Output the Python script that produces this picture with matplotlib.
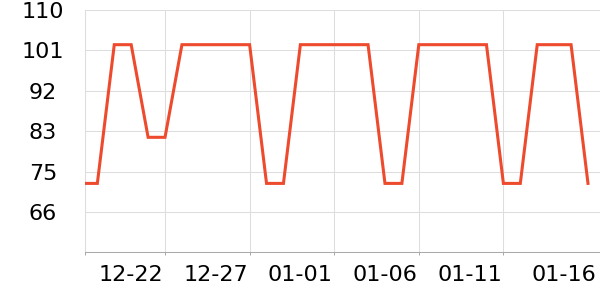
"""Daily level over a month, drawn as a single orange-red line."""

import numpy as np
import pandas as pd
import matplotlib

matplotlib.use("Agg")
import matplotlib.pyplot as plt

# Data (one point per day)
dates = pd.date_range("2023-12-17", "2024-01-16", freq="D")
values = [
    72.0, 72.0, 102.4, 102.4, 82.1, 82.1,
    102.4, 102.4, 102.4, 102.4, 102.4,
    72.0, 72.0,
    102.4, 102.4, 102.4, 102.4, 102.4,
    72.0, 72.0,
    102.4, 102.4, 102.4, 102.4, 102.4,
    72.0, 72.0,
    102.4, 102.4, 102.4,
    72.0,
]
x_labels = ["12-22", "12-27", "01-01", "01-06", "01-11", "01-16"]
y_tick_labels = ["", "66", "75", "83", "92", "101", "110"]

LINE_COLOR = "#ee4a2e"
GRID_COLOR = "#dddddd"
AXIS_COLOR = "#aaaaaa"

ref = pd.Timestamp("2023-12-22")
x = np.asarray((dates - ref).days, dtype=float)
label_x = np.asarray(
    (pd.to_datetime(["2023-12-20", "2023-12-25", "2023-12-30",
                     "2024-01-04", "2024-01-09", "2024-01-14"]) - ref).days,
    dtype=float,
)

plt.rcParams["font.family"] = ["DejaVu Sans"]
fig = plt.figure(figsize=(6, 3), dpi=100)
ax = fig.add_axes([85 / 600, 47.7 / 300, 515 / 600, 242.3 / 300])

ax.plot(x, values, color=LINE_COLOR, lw=2.2, solid_joinstyle="miter", zorder=3)

x_min, x_max = -4.73, 25.71
ax.set_xlim(x_min, x_max)
y_min, y_max = 56.9, 110
ax.set_ylim(y_min, y_max)

# y axis: evenly split range, centered labels
ax.set_yticks(np.linspace(y_min, y_max, 7), labels=y_tick_labels)
ax.tick_params(axis="y", length=0, pad=30.2, labelsize=16)
for lab in ax.get_yticklabels():
    lab.set_horizontalalignment("center")

# x axis: ticks + vertical grid every 5 days, labels placed separately
ax.set_xticks([x_min, 0, 5, 10, 15, 20], labels=[])
ax.tick_params(axis="x", length=2.2, width=0.72, color=AXIS_COLOR, direction="out")
for i, (lx, lab) in enumerate(zip(label_x, x_labels)):
    dx = 6.7 if i == len(x_labels) - 1 else 0
    ax.annotate(lab, xy=(lx, 0), xycoords=("data", "axes fraction"),
                xytext=(dx, -9.1), textcoords="offset points",
                ha="center", va="top", fontsize=16, annotation_clip=False)

ax.grid(True, color=GRID_COLOR, lw=0.75)
ax.set_axisbelow(True)
for side in ["top", "right"]:
    ax.spines[side].set_visible(False)
ax.spines["left"].set_color(GRID_COLOR)
ax.spines["left"].set_linewidth(0.75)
ax.spines["bottom"].set_color(AXIS_COLOR)
ax.spines["bottom"].set_linewidth(0.75)

fig.savefig("out.png", dpi=100)
